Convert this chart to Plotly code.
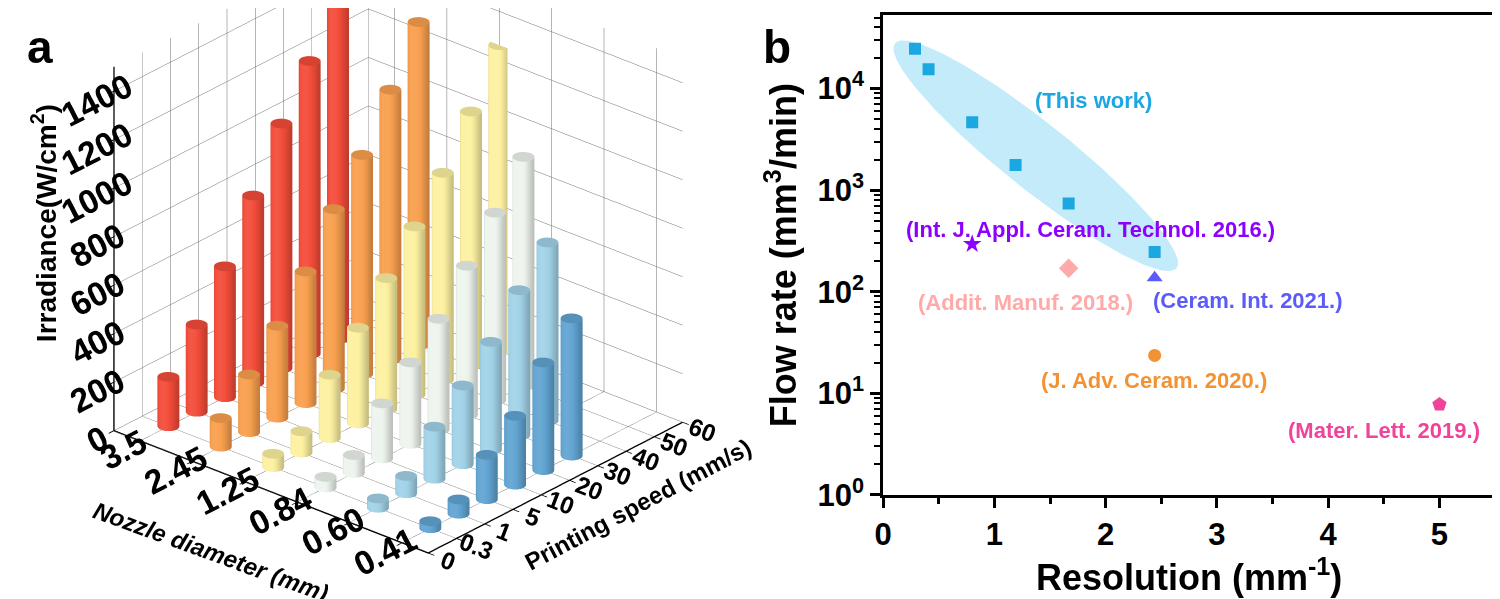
import numpy as np
import plotly.graph_objects as go

# ---------------- Panel a data ----------------
nozzle_labels = ["3.5", "2.45", "1.25", "0.84", "0.60", "0.41"]
speed_labels = ["0", "0.3", "1", "5", "10", "20", "30", "40", "50", "60"]
z_ticks = [0, 200, 400, 600, 800, 1000, 1200, 1400]

irr_35 = [204, 360, 540, 772, 1009, 1207, 1446]
irr_245 = [118, 238, 379, 543, 740, 904, 1113, 1332]
irr_125 = [55, 88, 261, 395, 540, 693, 854, 1047, 1261]
irr_084 = [44, 74, 227, 336, 456, 615, 774, 944]
irr_060 = [39, 72, 215, 325, 445, 598, 735]
irr_041 = [29, 59, 183, 284, 444, 566]
irr_rows = [irr_35, irr_245, irr_125, irr_084, irr_060, irr_041]
row_colors = ["#F44D3A", "#F9A04F", "#FDF1A1", "#EEF4EE", "#A2D3E8", "#62A5D3"]

# ---------------- Panel b data ----------------
res_this = [0.286, 0.408, 0.80, 1.19, 1.667, 2.44]
flow_this = [24600, 15500, 4650, 1770, 740, 246]

ref_names = ["(Int. J. Appl. Ceram. Technol. 2016.)", "(Addit. Manuf. 2018.)",
             "(Ceram. Int. 2021.)", "(J. Adv. Ceram. 2020.)", "(Mater. Lett. 2019.)"]
ref_res = [0.80, 1.667, 2.44, 2.44, 5.0]
ref_flow = [294, 170, 137, 23.6, 7.76]
ref_symbols = ["star", "diamond", "triangle-up", "circle", "pentagon"]
ref_colors = ["#8B00FF", "#FFA9A9", "#5B5BFA", "#F39232", "#F0449B"]
ref_sizes = [14, 15, 14, 13, 15]
label_res = [1.866, 1.277, 3.277, 2.437, 4.50]
label_flow = [408, 78.5, 82, 13.3, 4.33]
this_label_res = 1.893
this_label_flow = 7680
this_color = "#1BA7E1"

fig = go.Figure()

# ---------------- 3D cylinders (self-shaded) ----------------
RX, RY = 0.16, 0.25
view_dir = np.array([0.59, -0.807])
left_dir = np.array([-0.807, -0.59])
light = view_dir + 0.45 * left_dir
light = light / np.linalg.norm(light)


def hex_rgb(h):
    h = h.lstrip("#")
    return np.array([int(h[k:k + 2], 16) for k in (0, 2, 4)], dtype=float)


def shade(rgb, f):
    if f <= 1:
        c = rgb * f
    else:
        c = rgb + (255 - rgb) * (f - 1)
    c = np.clip(c, 0, 255)
    return "rgb(%d,%d,%d)" % tuple(c)


def cylinder_mesh(xs, ys, hs, base_hex, n=36):
    rgb = hex_rgb(base_hex)
    X, Y, Z, I, J, K, C = [], [], [], [], [], [], []
    th = np.linspace(0, 2 * np.pi, n, endpoint=False)
    side_cols = []
    for t in th:
        d = np.cos(t) * light[0] + np.sin(t) * light[1]
        side_cols.append(shade(rgb, 0.80 + 0.26 * max(d, 0) ** 1.5 - 0.06 * max(-d, 0)))
    cap_col = shade(rgb, 0.88)
    for x0, y0, h in zip(xs, ys, hs):
        b = len(X)
        for zz in (0, h):
            for k, t in enumerate(th):
                X.append(x0 + RX * np.cos(t)); Y.append(y0 + RY * np.sin(t)); Z.append(zz)
                C.append(side_cols[k])
        for t in th:  # cap ring
            X.append(x0 + RX * np.cos(t)); Y.append(y0 + RY * np.sin(t)); Z.append(h)
            C.append(cap_col)
        X.append(x0); Y.append(y0); Z.append(h); C.append(cap_col)
        for k in range(n):
            k2 = (k + 1) % n
            I += [b + k, b + k2]; J += [b + k2, b + n + k2]; K += [b + n + k, b + n + k]
            I.append(b + 2 * n + k); J.append(b + 2 * n + k2); K.append(b + 3 * n)
    return X, Y, Z, I, J, K, C


for i, (vals, col) in enumerate(zip(irr_rows, row_colors)):
    xs = [i] * len(vals)
    ys = list(range(1, len(vals) + 1))
    X, Y, Z, I, J, K, C = cylinder_mesh(xs, ys, vals, col)
    fig.add_trace(go.Mesh3d(x=X, y=Y, z=Z, i=I, j=J, k=K, vertexcolor=C, flatshading=False,
                            lighting=dict(ambient=1.0, diffuse=0.0, specular=0.0,
                                          roughness=1.0, fresnel=0.0),
                            hoverinfo="skip", showscale=False, scene="scene"))

axis_font = dict(family="Liberation Sans, Arial", size=20, color="black", weight="bold")
common3d = dict(showbackground=False, gridcolor="#6e6e6e", gridwidth=1, showline=True,
                linecolor="black", linewidth=3, ticks="outside", ticklen=8,
                tickcolor="black", tickwidth=2, showspikes=False, zeroline=False,
                tickfont=axis_font, title=dict(text=""))
speed_common = dict(common3d)
speed_common["tickfont"] = dict(family="Liberation Sans, Arial", size=17, color="black", weight="bold")

fig.update_layout(scene=dict(
    domain=dict(x=[0.0, 0.48], y=[0.0, 1.0]),
    xaxis=dict(range=[-0.5, 5.5], tickvals=list(range(6)), ticktext=nozzle_labels, **common3d),
    yaxis=dict(range=[0, 9], tickvals=list(range(10)), ticktext=speed_labels, **speed_common),
    zaxis=dict(range=[0, 1500], tickvals=z_ticks, **common3d),
    aspectmode="manual", aspectratio=dict(x=1.434, y=1.334, z=1.40),
    camera=dict(eye=dict(x=0.578, y=-0.789, z=0.28), center=dict(x=-0.065, y=-0.05, z=-0.21),
                up=dict(x=0, y=0, z=1), projection=dict(type="orthographic")),
))

# ---------------- Panel b ----------------
X_L, X_R = 872 / 1500, 1488 / 1500
Y_B, Y_T = 1 - 502 / 599, 1 - 7.6 / 599
X_RANGE = [0, 5.5]
Y_RANGE = [0, 4.72]
px_per_x = (X_R - X_L) * 1500 / (X_RANGE[1] - X_RANGE[0])
px_per_dec = (Y_T - Y_B) * 599 / (Y_RANGE[1] - Y_RANGE[0])

# highlight ellipse (pixel-sized, placed in data space)
ell_res, ell_flow = 1.371, 2180
ell_a, ell_b, ell_ang = 183, 34, -39.3
t = np.linspace(0, 2 * np.pi, 200)
ang = np.deg2rad(ell_ang)
dxp = ell_a * np.cos(t) * np.cos(ang) - ell_b * np.sin(t) * np.sin(ang)
dyp = ell_a * np.cos(t) * np.sin(ang) + ell_b * np.sin(t) * np.cos(ang)
fig.add_trace(go.Scatter(x=ell_res + dxp / px_per_x,
                         y=10 ** (np.log10(ell_flow) + dyp / px_per_dec),
                         mode="lines", fill="toself", fillcolor="#C3EBF9",
                         line=dict(width=0), hoverinfo="skip", showlegend=False))

fig.add_trace(go.Scatter(x=res_this, y=flow_this, mode="markers",
                         marker=dict(symbol="square", size=12, color=this_color),
                         showlegend=False))
for r, f, s, c, sz in zip(ref_res, ref_flow, ref_symbols, ref_colors, ref_sizes):
    fig.add_trace(go.Scatter(x=[r], y=[f], mode="markers",
                             marker=dict(symbol=s, size=sz, color=c, line=dict(width=0)),
                             showlegend=False))

lab_font = dict(family="Liberation Sans, Arial", size=22, weight="bold")
annos = [dict(x=this_label_res, y=np.log10(this_label_flow), xref="x", yref="y",
              text="(This work)", showarrow=False, font=dict(color=this_color, **lab_font))]
for name, lr, lf, c in zip(ref_names, label_res, label_flow, ref_colors):
    annos.append(dict(x=lr, y=np.log10(lf), xref="x", yref="y", text=name,
                      showarrow=False, font=dict(color=c, **lab_font)))
panel_font = dict(family="Liberation Sans, Arial", size=46, color="black", weight="bold")
annos.append(dict(x=23 / 1500, y=1 - 40 / 599, xref="paper", yref="paper", text="a",
                  xanchor="center", yanchor="middle", showarrow=False, font=panel_font))
annos.append(dict(x=765 / 1500, y=1 - 40 / 599, xref="paper", yref="paper", text="b",
                  xanchor="center", yanchor="middle", showarrow=False, font=panel_font))
# 3D axis titles
t3d = dict(family="Liberation Sans, Arial", color="black", weight="bold")
annos.append(dict(x=28 / 1500, y=1 - 222 / 599, xref="paper", yref="paper",
                  text="Irradiance(W/cm<sup>2</sup>)", textangle=-90, showarrow=False,
                  xanchor="center", yanchor="middle", font=dict(size=28, **t3d)))
annos.append(dict(x=195 / 1500, y=1 - 560 / 599, xref="paper", yref="paper",
                  text="<i>Nozzle diameter (mm)</i>", textangle=20, showarrow=False,
                  xanchor="center", yanchor="middle", font=dict(size=24, **t3d)))
annos.append(dict(x=625 / 1500, y=1 - 512 / 599, xref="paper", yref="paper",
                  text="Printing speed (mm/s)", textangle=-28, showarrow=False,
                  xanchor="center", yanchor="middle", font=dict(size=24, **t3d)))

tick_font = dict(family="Liberation Sans, Arial", size=31, color="black", weight="bold")
title_font = dict(family="Liberation Sans, Arial", size=36, color="black", weight="bold")
decades = [0, 1, 2, 3, 4]
fig.update_layout(
    xaxis=dict(domain=[X_L, X_R], range=X_RANGE, dtick=1, tick0=0, showline=True,
               linecolor="black", linewidth=3, mirror=True, ticks="outside", ticklen=10,
               tickwidth=3, tickcolor="black", showgrid=False, zeroline=False,
               tickfont=tick_font,
               minor=dict(ticks="outside", dtick=0.5, ticklen=6, tickwidth=2.5, tickcolor="black"),
               title=dict(text="Resolution (mm<sup>-1</sup>)", font=title_font, standoff=6),
               anchor="y"),
    yaxis=dict(domain=[Y_B, Y_T], type="log", range=Y_RANGE,
               tickvals=[10 ** d for d in decades],
               ticktext=[f"10<sup>{d}</sup>" for d in decades],
               showline=True, linecolor="black", linewidth=3, mirror="ticks",
               ticks="outside", ticklen=10, tickwidth=3, tickcolor="black",
               showgrid=False, zeroline=False, tickfont=tick_font,
               minor=dict(ticks="outside", dtick="D1", ticklen=6, tickwidth=2, tickcolor="black",
                          showgrid=False),
               title=dict(text="Flow rate (mm<sup>3</sup>/min)", font=title_font, standoff=10),
               anchor="x"),
    annotations=annos,
    width=1500, height=599, margin=dict(l=0, r=0, t=0, b=0),
    paper_bgcolor="white", plot_bgcolor="white", showlegend=False,
)

fig.write_html("out.html")
